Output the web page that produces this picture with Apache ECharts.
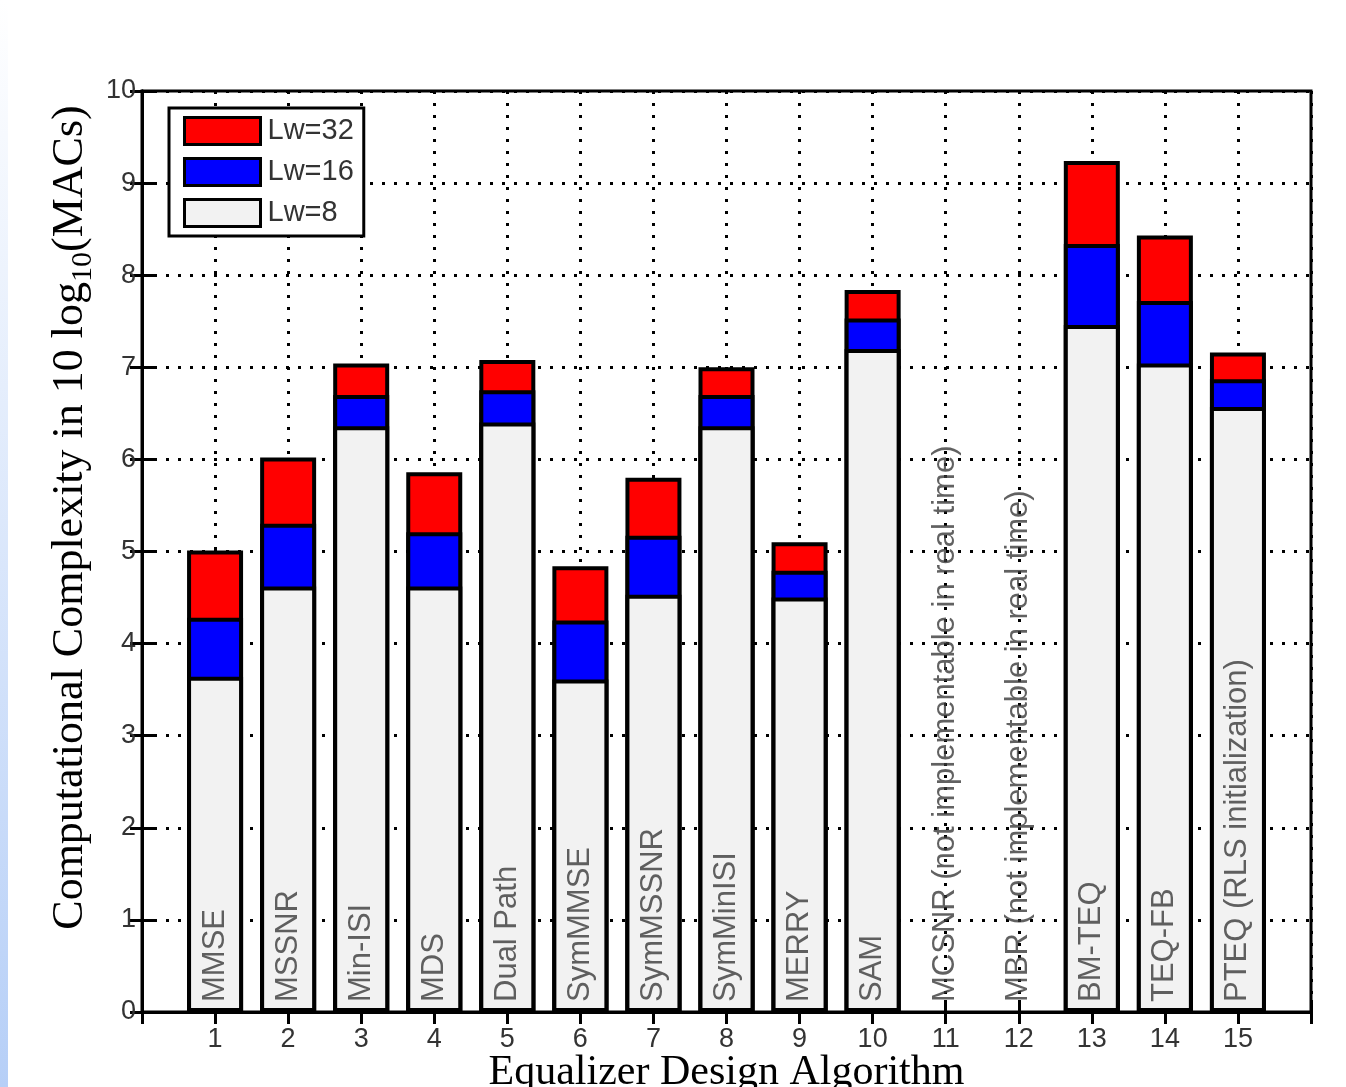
<!DOCTYPE html>
<html>
<head>
<meta charset="utf-8">
<script src="https://cdn.jsdelivr.net/npm/echarts@6/dist/echarts.min.js"></script>
<style>
  html, body { margin: 0; padding: 0; background: #fff; }
  #chart { width: 1346px; height: 1087px; }
</style>
</head>
<body>
<div id="chart"></div>
<script>
// algorithm index on the x axis
const positions = [1, 2, 3, 4, 5, 6, 7, 8, 9, 10, 11, 12, 13, 14, 15]
const algorithms = [
  'MMSE', 'MSSNR', 'Min-ISI', 'MDS', 'Dual Path', 'SymMMSE', 'SymMSSNR', 'SymMinISI',
  'MERRY', 'SAM', 'MCSNR (not implementable in real time)', 'MBR (not implementable in real time)',
  'BM-TEQ', 'TEQ-FB', 'PTEQ (RLS initialization)'
]
// complexity in 10 log10(MACs), bar heights per filter length (null = no bar)
const lw32 = [5.01, 6.02, 7.04, 5.86, 7.08, 4.84, 5.80, 7.00, 5.10, 7.84, null, null, 9.24, 8.43, 7.16]
const lw16 = [4.28, 5.30, 6.70, 5.21, 6.75, 4.25, 5.17, 6.70, 4.79, 7.53, null, null, 8.34, 7.72, 6.87]
const lw8 = [3.64, 4.62, 6.36, 4.62, 6.40, 3.61, 4.53, 6.36, 4.50, 7.20, null, null, 7.46, 7.04, 6.57]
const seriesNames = ['Lw=32', 'Lw=16', 'Lw=8']
const seriesColors = ['#ff0000', '#0000ff', '#f2f2f2']

const chart = echarts.init(document.getElementById('chart'))

const toPoints = arr => positions.map((x, i) => [x, arr[i]]).filter(p => p[1] != null)

const dotted = { color: '#000', width: 3, type: [3, 9] }
const tickStyle = { show: true, inside: true, length: 12, lineStyle: { color: '#000', width: 3 } }
const labelFont = { fontFamily: 'Liberation Sans', fontSize: 27, color: '#333' }

const barSeries = [lw32, lw16, lw8].map((arr, k) => ({
  name: seriesNames[k],
  type: 'bar',
  data: toPoints(arr),
  barWidth: 56,
  barGap: '-100%',
  itemStyle: { color: seriesColors[k], borderColor: '#000', borderWidth: 4 },
  silent: true
}))

chart.setOption({
  animation: false,
  backgroundColor: '#fff',
  graphic: [{
    type: 'rect', left: 0, top: 0, silent: true,
    shape: { width: 8, height: 1087 },
    style: {
      fill: new echarts.graphic.LinearGradient(0, 0, 0, 1, [
        { offset: 0, color: '#ffffff' },
        { offset: 1, color: '#b6cff7' }
      ])
    }
  }],
  grid: {
    left: 142, right: 35, top: 91, bottom: 75,
    outerBoundsMode: 'none',
    show: true, borderColor: '#000', borderWidth: 3, backgroundColor: '#fff'
  },
  legend: {
    orient: 'vertical',
    left: 169, top: 108,
    padding: [8, 10, 8, 14],
    icon: 'rect',
    itemWidth: 76, itemHeight: 27, itemGap: 11,
    backgroundColor: '#fff', borderColor: '#000', borderWidth: 3,
    borderRadius: 0,
    data: seriesNames,
    itemStyle: { borderColor: '#000', borderWidth: 3 },
    textStyle: { fontFamily: 'Liberation Sans', fontSize: 29, color: '#333', padding: [0, 0, 0, 2] }
  },
  xAxis: [{
    type: 'value', min: 0, max: 16, interval: 1,
    name: 'Equalizer Design Algorithm',
    nameLocation: 'middle', nameGap: 40,
    nameMoveOverlap: false,
    nameTextStyle: { fontFamily: 'Liberation Serif', fontSize: 42, color: '#000' },
    axisLine: { show: true, lineStyle: { color: '#000', width: 3 } },
    axisTick: tickStyle,
    axisLabel: Object.assign({ margin: 14, formatter: v => (v >= 1 && v <= 15 ? String(v) : '') }, labelFont),
    splitLine: { show: true, lineStyle: dotted }
  }, {
    type: 'value', min: 0, max: 16, interval: 1, position: 'top',
    axisLine: { show: true, lineStyle: { color: '#000', width: 3 } },
    axisTick: tickStyle, axisLabel: { show: false }, splitLine: { show: false }
  }],
  yAxis: [{
    type: 'value', min: 0, max: 10, interval: 1,
    name: 'Computational Complexity in 10 log{sub|10}(MACs)',
    nameLocation: 'middle', nameGap: 44,
    nameMoveOverlap: false,
    nameTextStyle: {
      fontFamily: 'Liberation Serif', fontSize: 44, color: '#000',
      padding: [0, 0, 0, 68],
      rich: { sub: { fontFamily: 'Liberation Serif', fontSize: 30, color: '#000', padding: [26, 0, 0, 0] } }
    },
    axisLine: { show: true, lineStyle: { color: '#000', width: 3 } },
    axisTick: tickStyle,
    axisLabel: Object.assign({ margin: 6 }, labelFont),
    splitLine: { show: true, lineStyle: dotted }
  }, {
    type: 'value', min: 0, max: 10, interval: 1, position: 'right',
    axisLine: { show: true, lineStyle: { color: '#000', width: 3 } },
    axisTick: tickStyle, axisLabel: { show: false }, splitLine: { show: false }
  }],
  series: barSeries.concat([{
    type: 'scatter',
    data: positions.map(x => [x, 0]),
    symbolSize: 0,
    silent: true,
    z: 5,
    label: {
      show: true,
      position: 'top',
      distance: 10,
      rotate: 90,
      align: 'left',
      verticalAlign: 'middle',
      formatter: p => algorithms[p.dataIndex],
      fontFamily: 'Liberation Sans',
      fontSize: 31,
      color: '#3a3a3a'
    }
  }])
})
</script>
</body>
</html>
